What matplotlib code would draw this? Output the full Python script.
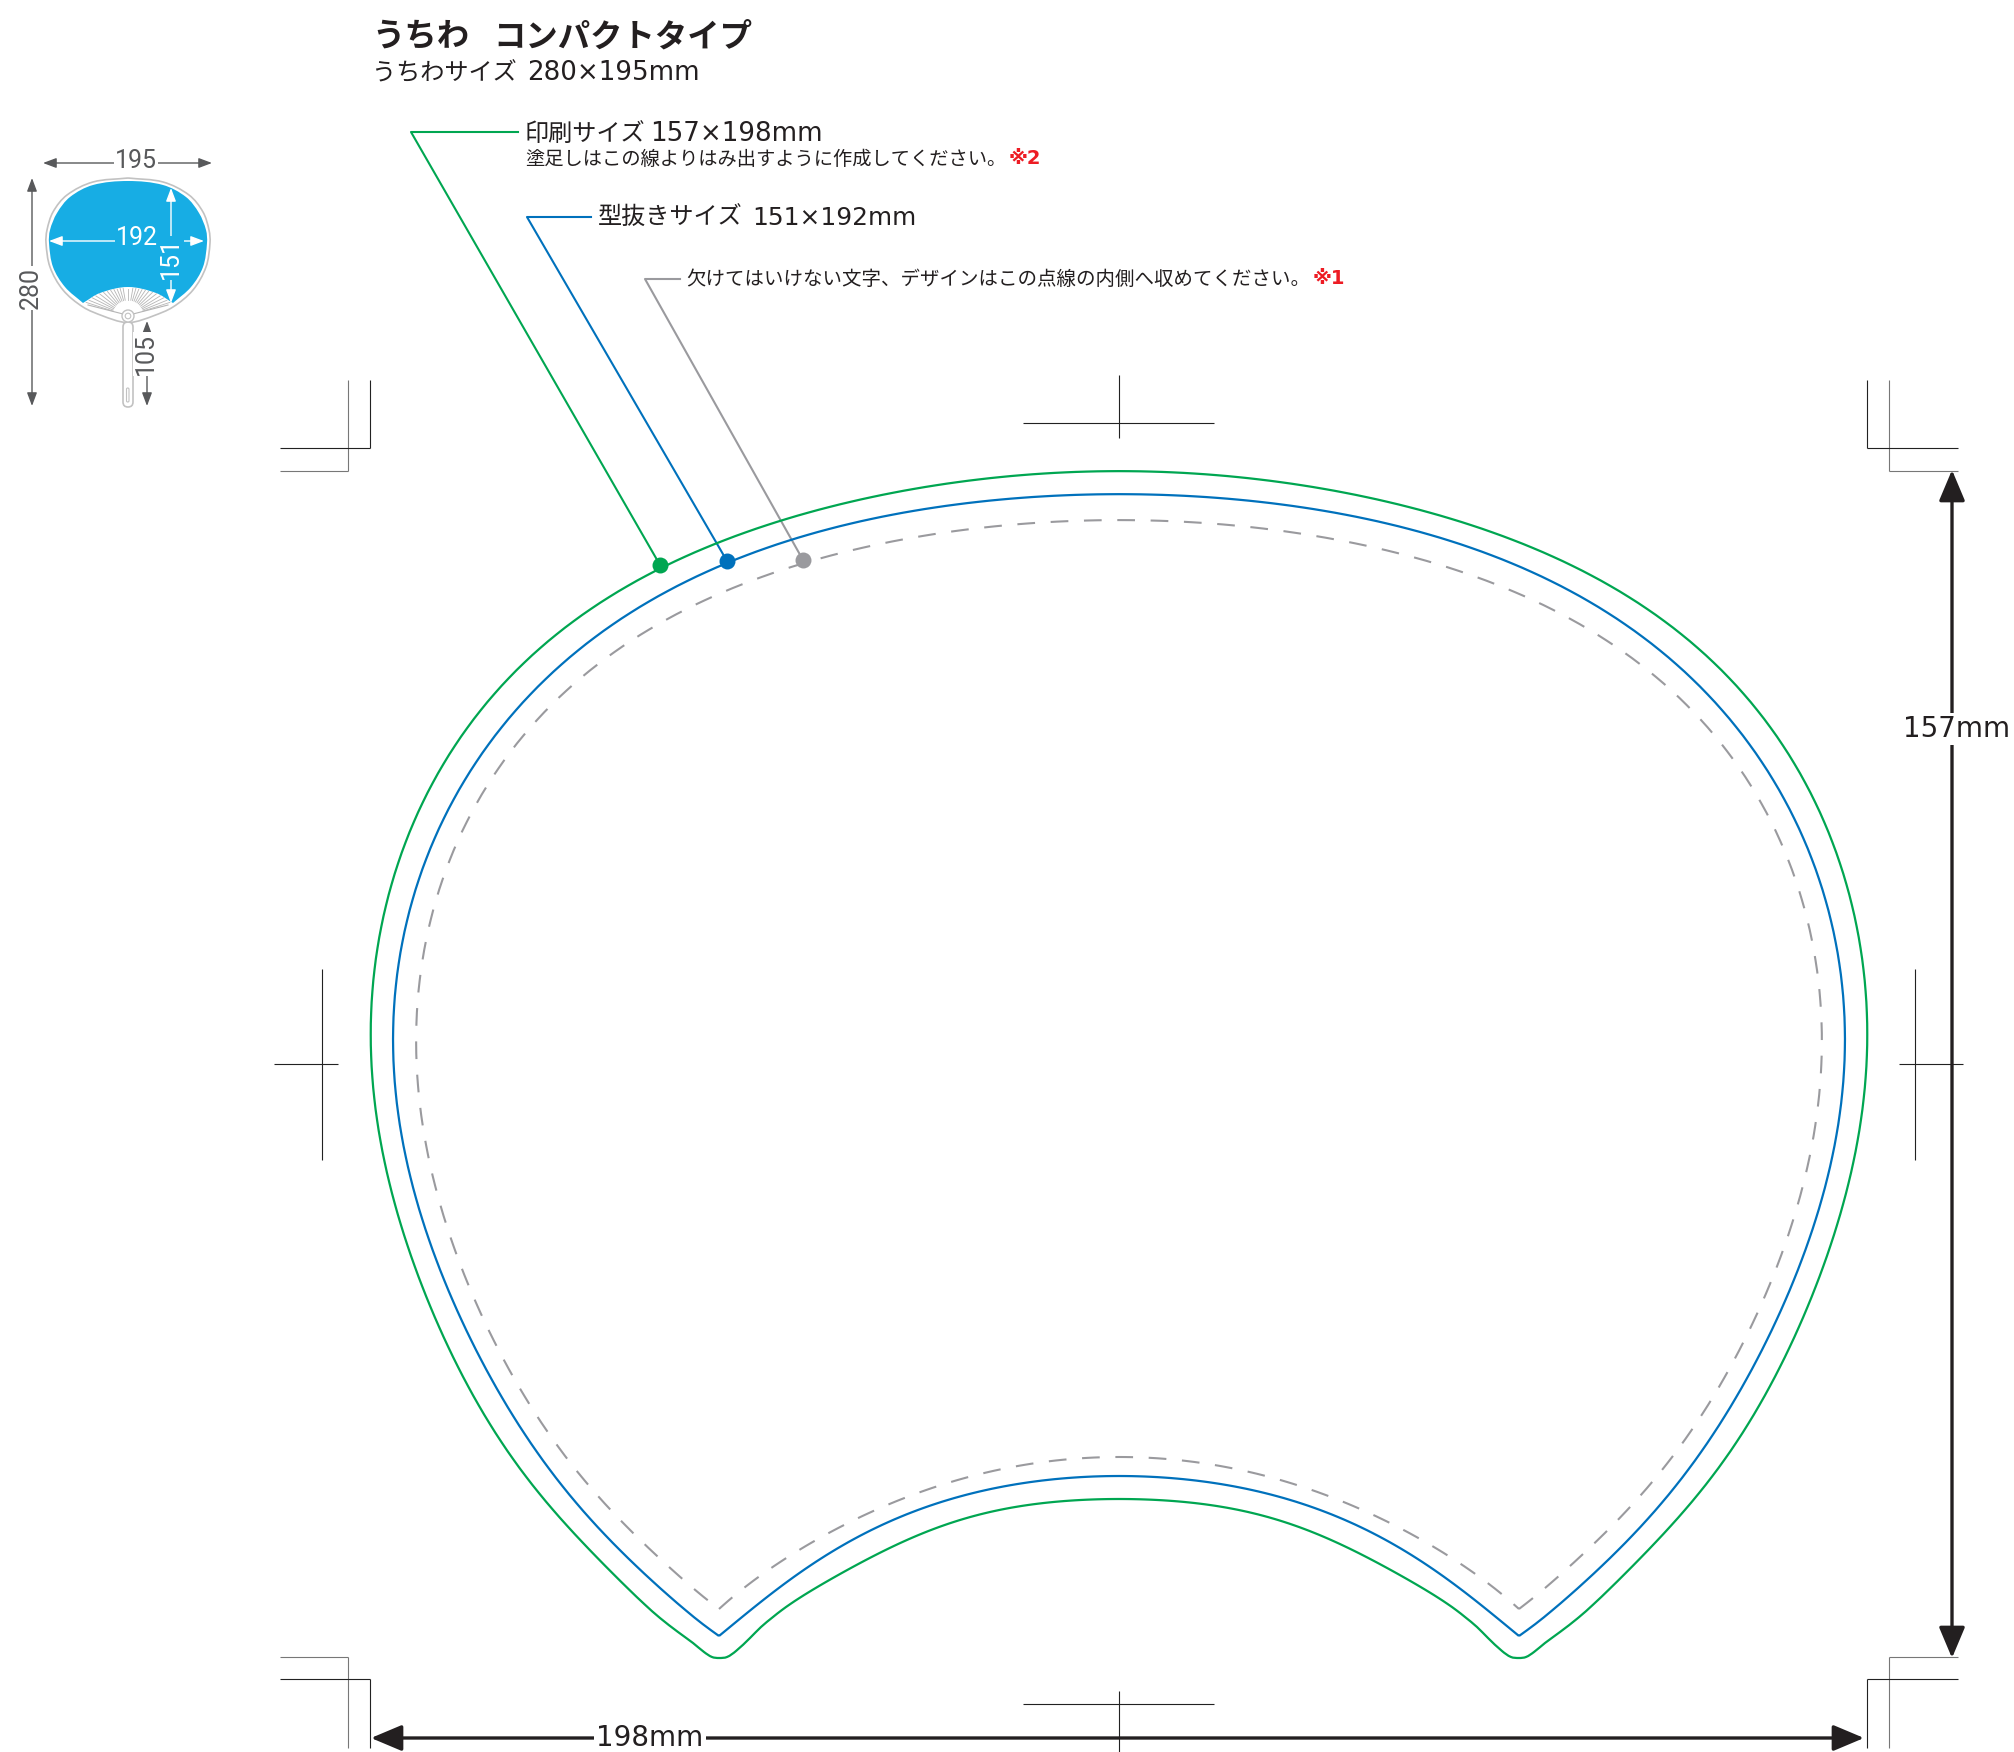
import numpy as np
import matplotlib
matplotlib.use("Agg")
import matplotlib.pyplot as plt
from numpy.polynomial import Polynomial
from matplotlib.path import Path
from matplotlib.patches import PathPatch, FancyArrowPatch, FancyBboxPatch, Circle

center_x = 1119
fan_center_x = 128

# left half of each outline, apex -> cusp, then cusp -> arch middle
green_top_x = [1119, 1060, 993, 927, 860, 793, 760, 693, 660, 610, 560, 520, 487, 450, 423, 400,
               382, 373, 371, 373, 380, 393, 412, 460, 493, 527, 557, 593, 627, 660]
green_top_y = [471, 473, 479, 489, 503, 518, 527, 552, 567, 595, 630, 667, 703, 757, 803, 860,
               920, 973, 1037, 1087, 1137, 1197, 1260, 1368, 1430, 1480, 1513, 1553, 1588, 1618]
green_cusp_x = [678, 693, 704, 712, 719, 727, 736, 750, 761]
green_cusp_y = [1632, 1643, 1652, 1657, 1658, 1657, 1651, 1638, 1627]
green_arch_x = [773, 807, 867, 917, 967, 1017, 1067, 1119]
green_arch_y = [1617, 1593, 1560, 1535, 1518, 1507, 1501, 1499]

blue_top_x = [1119, 1060, 993, 927, 860, 793, 760, 727, 660, 610, 560, 520, 487, 457, 425,
              403, 395, 393, 397, 403, 415, 437, 460, 493, 527, 560, 610, 660, 719]
blue_top_y = [494, 497, 502, 511, 524, 540, 551, 562, 593, 623, 663, 707, 753, 800, 860,
              923, 987, 1037, 1093, 1140, 1197, 1260, 1317, 1383, 1437, 1483, 1540, 1588, 1636]
blue_arch_x = [719, 750, 800, 833, 873, 917, 967, 1017, 1067, 1119]
blue_arch_y = [1636, 1610, 1573, 1552, 1528, 1510, 1495, 1485, 1478, 1476]

dash_top_x = [1119, 1060, 1000, 927, 860, 803, 773, 750, 693, 643, 593, 543, 507, 473, 450,
              430, 420, 416, 417, 421, 430, 443, 465, 493, 523, 557, 593, 637, 682, 719]
dash_top_y = [520, 521, 527, 538, 550, 563, 573, 583, 603, 632, 667, 713, 760, 810, 860,
              923, 973, 1020, 1067, 1110, 1160, 1217, 1277, 1340, 1393, 1443, 1492, 1537, 1578, 1609]
dash_arch_x = [719, 750, 800, 853, 908, 967, 1027, 1083, 1119]
dash_arch_y = [1609, 1583, 1550, 1520, 1497, 1477, 1465, 1458, 1457]

# small fan in the top left corner
fan_outer_x = [128, 93, 67, 53, 47, 46, 50, 63, 83, 103, 122]
fan_outer_y = [178, 182, 195, 212, 230, 243, 267, 290, 307, 316, 322]
fan_blue_x = [128, 93, 70, 57, 50, 49, 53, 65, 83]
fan_blue_y = [181, 185, 197, 213, 230, 243, 267, 287, 303]
fan_arch_x = [83, 100, 128]
fan_arch_y = [303, 293, 287]
ray_angles = [100, 106, 112, 118, 124, 130, 136, 142, 148, 153, 158, 162]
ray_lengths = [28, 29, 29, 30, 31, 32, 34, 36, 38, 40, 42, 44]

# crop marks, (x1, y1, x2, y2, colour)
crop_lines = [
    (348, 380, 348, 471, "#777777"), (280, 471, 348, 471, "#777777"),
    (370, 380, 370, 448, "#222222"), (280, 448, 370, 448, "#222222"),
    (1889, 380, 1889, 471, "#777777"), (1889, 471, 1958, 471, "#777777"),
    (1867, 380, 1867, 448, "#222222"), (1867, 448, 1958, 448, "#222222"),
    (348, 1657, 348, 1748, "#777777"), (280, 1657, 348, 1657, "#777777"),
    (370, 1679, 370, 1748, "#222222"), (280, 1679, 370, 1679, "#222222"),
    (1889, 1657, 1889, 1748, "#777777"), (1889, 1657, 1958, 1657, "#777777"),
    (1867, 1679, 1867, 1748, "#222222"), (1867, 1679, 1958, 1679, "#222222"),
    (1119, 375, 1119, 438, "#222222"), (1023, 423, 1214, 423, "#222222"),
    (1119, 1691, 1119, 1752, "#222222"), (1023, 1704, 1214, 1704, "#222222"),
    (322, 969, 322, 1160, "#222222"), (274, 1064, 338, 1064, "#222222"),
    (1915, 969, 1915, 1160, "#222222"), (1899, 1064, 1963, 1064, "#222222"),
]

GREEN = "#00a651"
BLUE = "#0071bc"
GREY = "#9a9a9e"
RED = "#ed1c24"
INK = "#231f20"
DIM = "#58595b"
SKY = "#17ade4"
JP = ["DejaVu Sans", "Noto Sans CJK JP"]
JP_ONLY = ["Noto Sans CJK JP"]


def mirror(xs, ys, cx=center_x):
    # other half of the shape, same points walked the other way
    return [2 * cx - x for x in xs[::-1]], ys[::-1]


def smooth(xs, ys, closed=False):
    # bezier through the given points
    p = np.column_stack([xs, ys]).astype(float)
    n = len(p)
    t = np.zeros_like(p)
    for i in range(n):
        if closed:
            d = p[(i + 1) % n] - p[(i - 1) % n]
        else:
            d = p[min(i + 1, n - 1)] - p[max(i - 1, 0)]
        t[i] = d / np.hypot(*d)
    verts = [p[0]]
    codes = [Path.MOVETO]
    for i in range(n if closed else n - 1):
        a, b = p[i], p[(i + 1) % n]
        k = np.hypot(*(b - a)) / 3
        verts += [a + t[i] * k, b - t[(i + 1) % n] * k, b]
        codes += [Path.CURVE4] * 3
    return Path(verts, codes)


def fair(xs, ys, deg, count):
    # read points are a bit noisy, so fit them along their length to take out the wobble
    x = np.array(xs, float)
    y = np.array(ys, float)
    s = np.concatenate([[0], np.cumsum(np.hypot(np.diff(x), np.diff(y)))])
    w = np.ones(len(x))
    w[[0, -1]] = 30
    w[len(x) // 2] = 8  # hold the apex, the fit flattens it otherwise
    u = np.linspace(s[0], s[-1], count)
    return Polynomial.fit(s, x, deg, w=w)(u), Polynomial.fit(s, y, deg, w=w)(u)


def outline(top_x, top_y, arch_x, arch_y):
    # two open runs that meet at the cusps, so the corners stay sharp
    mx, my = mirror(top_x[1:], top_y[1:])
    tx, ty = fair(mx + top_x, my + top_y, 16, 160)
    ax2, ay2 = mirror(arch_x[:-1], arch_y[:-1])
    bx_, by_ = fair(arch_x + ax2, arch_y + ay2, 8, 70)
    return Path.make_compound_path(smooth(tx, ty), smooth(bx_, by_))


def green_outline():
    # the print edge has rounded cusps, so it is one closed loop
    mx, my = mirror(green_top_x[1:], green_top_y[1:])
    tx, ty = fair(mx + green_top_x, my + green_top_y, 16, 160)
    ax2, ay2 = mirror(green_arch_x[:-1], green_arch_y[:-1])
    bx_, by_ = fair(green_arch_x + ax2, green_arch_y + ay2, 8, 70)
    rx, ry = mirror(green_cusp_x, green_cusp_y)
    xs = list(tx) + green_cusp_x + list(bx_) + rx
    ys = list(ty) + green_cusp_y + list(by_) + ry
    return smooth(xs, ys, closed=True)


def arrow(x1, y1, x2, y2, color, lw=1.0, hl=0.8, hw=0.3, ms=10, z=5):
    ax.add_patch(FancyArrowPatch((x1, y1), (x2, y2), shrinkA=0, shrinkB=0, lw=lw, color=color, zorder=z,
                                 arrowstyle=f"<|-|>,head_length={hl},head_width={hw}", mutation_scale=ms))


def label(x, y, s, size, color=INK, weight="normal", ha="left", rot=0, bg=None, fam=JP, pad=1.5, z=6):
    box = dict(facecolor=bg, edgecolor="none", pad=pad) if bg else None
    ax.text(x, y, s, fontsize=size, color=color, fontweight=weight, ha=ha, va="center", rotation=rot,
            family=fam, bbox=box, zorder=z)


fig = plt.figure(figsize=(20.15, 17.52), dpi=100)
ax = fig.add_axes([0, 0, 1, 1])
ax.set_xlim(0, 2015)
ax.set_ylim(1752, 0)
ax.axis("off")

# crop marks
for x1, y1, x2, y2, c in crop_lines:
    ax.plot([x1, x2], [y1, y2], color=c, lw=0.8, solid_capstyle="butt", zorder=1)

# three outlines
ax.add_patch(PathPatch(green_outline(), fill=False, ec=GREEN, lw=1.6, zorder=3))
ax.add_patch(PathPatch(outline(blue_top_x, blue_top_y, blue_arch_x, blue_arch_y), fill=False, ec=BLUE, lw=1.6, zorder=3))
ax.add_patch(PathPatch(outline(dash_top_x, dash_top_y, dash_arch_x, dash_arch_y), fill=False, ec=GREY, lw=1.5,
                       linestyle=(0, (8.5, 7.5)), zorder=3))

# leaders
ax.plot([518, 411, 660], [132, 132, 565], color=GREEN, lw=1.5, zorder=2)
ax.plot([591, 527, 727], [217, 217, 561], color=BLUE, lw=1.5, zorder=2)
ax.plot([680, 645, 803], [279, 279, 560], color=GREY, lw=1.5, zorder=2)
ax.plot([660], [565], "o", color=GREEN, ms=11.5, mew=0, zorder=4)
ax.plot([727], [561], "o", color=BLUE, ms=11.5, mew=0, zorder=4)
ax.plot([803], [560], "o", color=GREY, ms=11.5, mew=0, zorder=4)

# big dimensions
arrow(1952, 470, 1952, 1658, INK, lw=2.4, hl=1.9, hw=0.8)
arrow(371, 1738, 1864, 1738, INK, lw=2.4, hl=1.9, hw=0.8)
label(1957, 729, "157mm", 20, ha="center", bg="white")
label(650, 1738, "198mm", 20, ha="center", bg="white")

# header text
label(372, 37, "うちわ", 23.3, weight="bold", fam=JP_ONLY)
label(493, 37, "コンパクトタイプ", 23.3, weight="bold", fam=JP_ONLY)
label(372, 73, "うちわサイズ", 17.4, fam=JP_ONLY)
label(527, 73, "280×195mm", 18.8)
label(525, 134, "印刷サイズ", 17.4, fam=JP_ONLY)
label(650, 134, "157×198mm", 18.8)
label(525, 159, "塗足しはこの線よりはみ出すように作成してください。", 13.9, fam=JP_ONLY)
label(1009, 159, "※2", 14, color=RED, weight="bold")
label(598, 218, "型抜きサイズ", 17.4, fam=JP_ONLY)
label(752, 218, "151×192mm", 17.9)
label(686, 279, "欠けてはいけない文字、デザインはこの点線の内側へ収めてください。", 14, fam=JP_ONLY)
label(1313, 279, "※1", 14, color=RED, weight="bold")

# small fan
fx, fy = mirror(fan_outer_x, fan_outer_y, fan_center_x)
ax.add_patch(PathPatch(smooth(fan_outer_x + fx, fan_outer_y + fy, closed=True), fc="white", ec="#c2c2c2", lw=1.2, zorder=2))
bx, by = mirror(fan_blue_x[1:], fan_blue_y[1:], fan_center_x)
ax2x, ax2y = mirror(fan_arch_x[:-1], fan_arch_y[:-1], fan_center_x)
sky_top = smooth(bx + fan_blue_x, by + fan_blue_y)
sky_arch = smooth(fan_arch_x + ax2x, fan_arch_y + ax2y)
sky_v = np.vstack([sky_top.vertices, sky_arch.vertices[1:]])
sky_c = list(sky_top.codes) + list(sky_arch.codes[1:])
ax.add_patch(PathPatch(Path(np.vstack([sky_v, sky_v[0]]), sky_c + [Path.LINETO]), fc=SKY, ec="none", zorder=3))

hub_x, hub_y = fan_center_x, 316
for ang, length in zip(ray_angles + [180 - a for a in ray_angles] + [90], ray_lengths + ray_lengths + [27]):
    a = np.radians(ang)
    ax.plot([hub_x + 16 * np.cos(a), hub_x + length * np.cos(a)],
            [hub_y - 16 * np.sin(a), hub_y - length * np.sin(a)], color="#b5b5b5", lw=0.6, zorder=3)
ax.plot([88, 123], [305, 314], color="#b5b5b5", lw=0.8, zorder=3)
ax.plot([168, 133], [305, 314], color="#b5b5b5", lw=0.8, zorder=3)

ax.add_patch(FancyBboxPatch((123, 322), 10, 85, boxstyle="round,pad=0,rounding_size=5", fc="white", ec="#c2c2c2", lw=1.2, zorder=4))
ax.add_patch(FancyBboxPatch((126.5, 388), 2.5, 14, boxstyle="round,pad=0,rounding_size=1.2", fc="white", ec="#c2c2c2", lw=0.8, zorder=5))
ax.add_patch(Circle((hub_x, hub_y), 6, fc="white", ec="#c2c2c2", lw=1.0, zorder=5))
ax.add_patch(Circle((hub_x, hub_y), 2.8, fc="white", ec="#c2c2c2", lw=0.8, zorder=5))

arrow(43, 163, 212, 163, DIM)
arrow(32, 178, 32, 406, DIM)
arrow(147, 321, 147, 406, DIM)
arrow(49, 241, 204, 241, "white", z=5)
arrow(171, 188, 171, 303, "white", z=5)
num_font = ["Roboto"]
label(136, 161, "195", 18, color=DIM, ha="center", bg="white", fam=num_font, pad=0.5)
label(31, 288, "280", 18, color=DIM, ha="center", rot=90, bg="white", fam=num_font, pad=0.5)
label(146, 354, "105", 18, color=DIM, ha="center", rot=90, bg="white", fam=num_font, pad=0.5)
label(137, 238, "192", 18, color="white", ha="center", bg=SKY, fam=num_font, pad=0.5)
label(171, 258, "151", 18, color="white", ha="center", rot=90, bg=SKY, fam=num_font, pad=0.5)

fig.savefig("out.png", dpi=100)
